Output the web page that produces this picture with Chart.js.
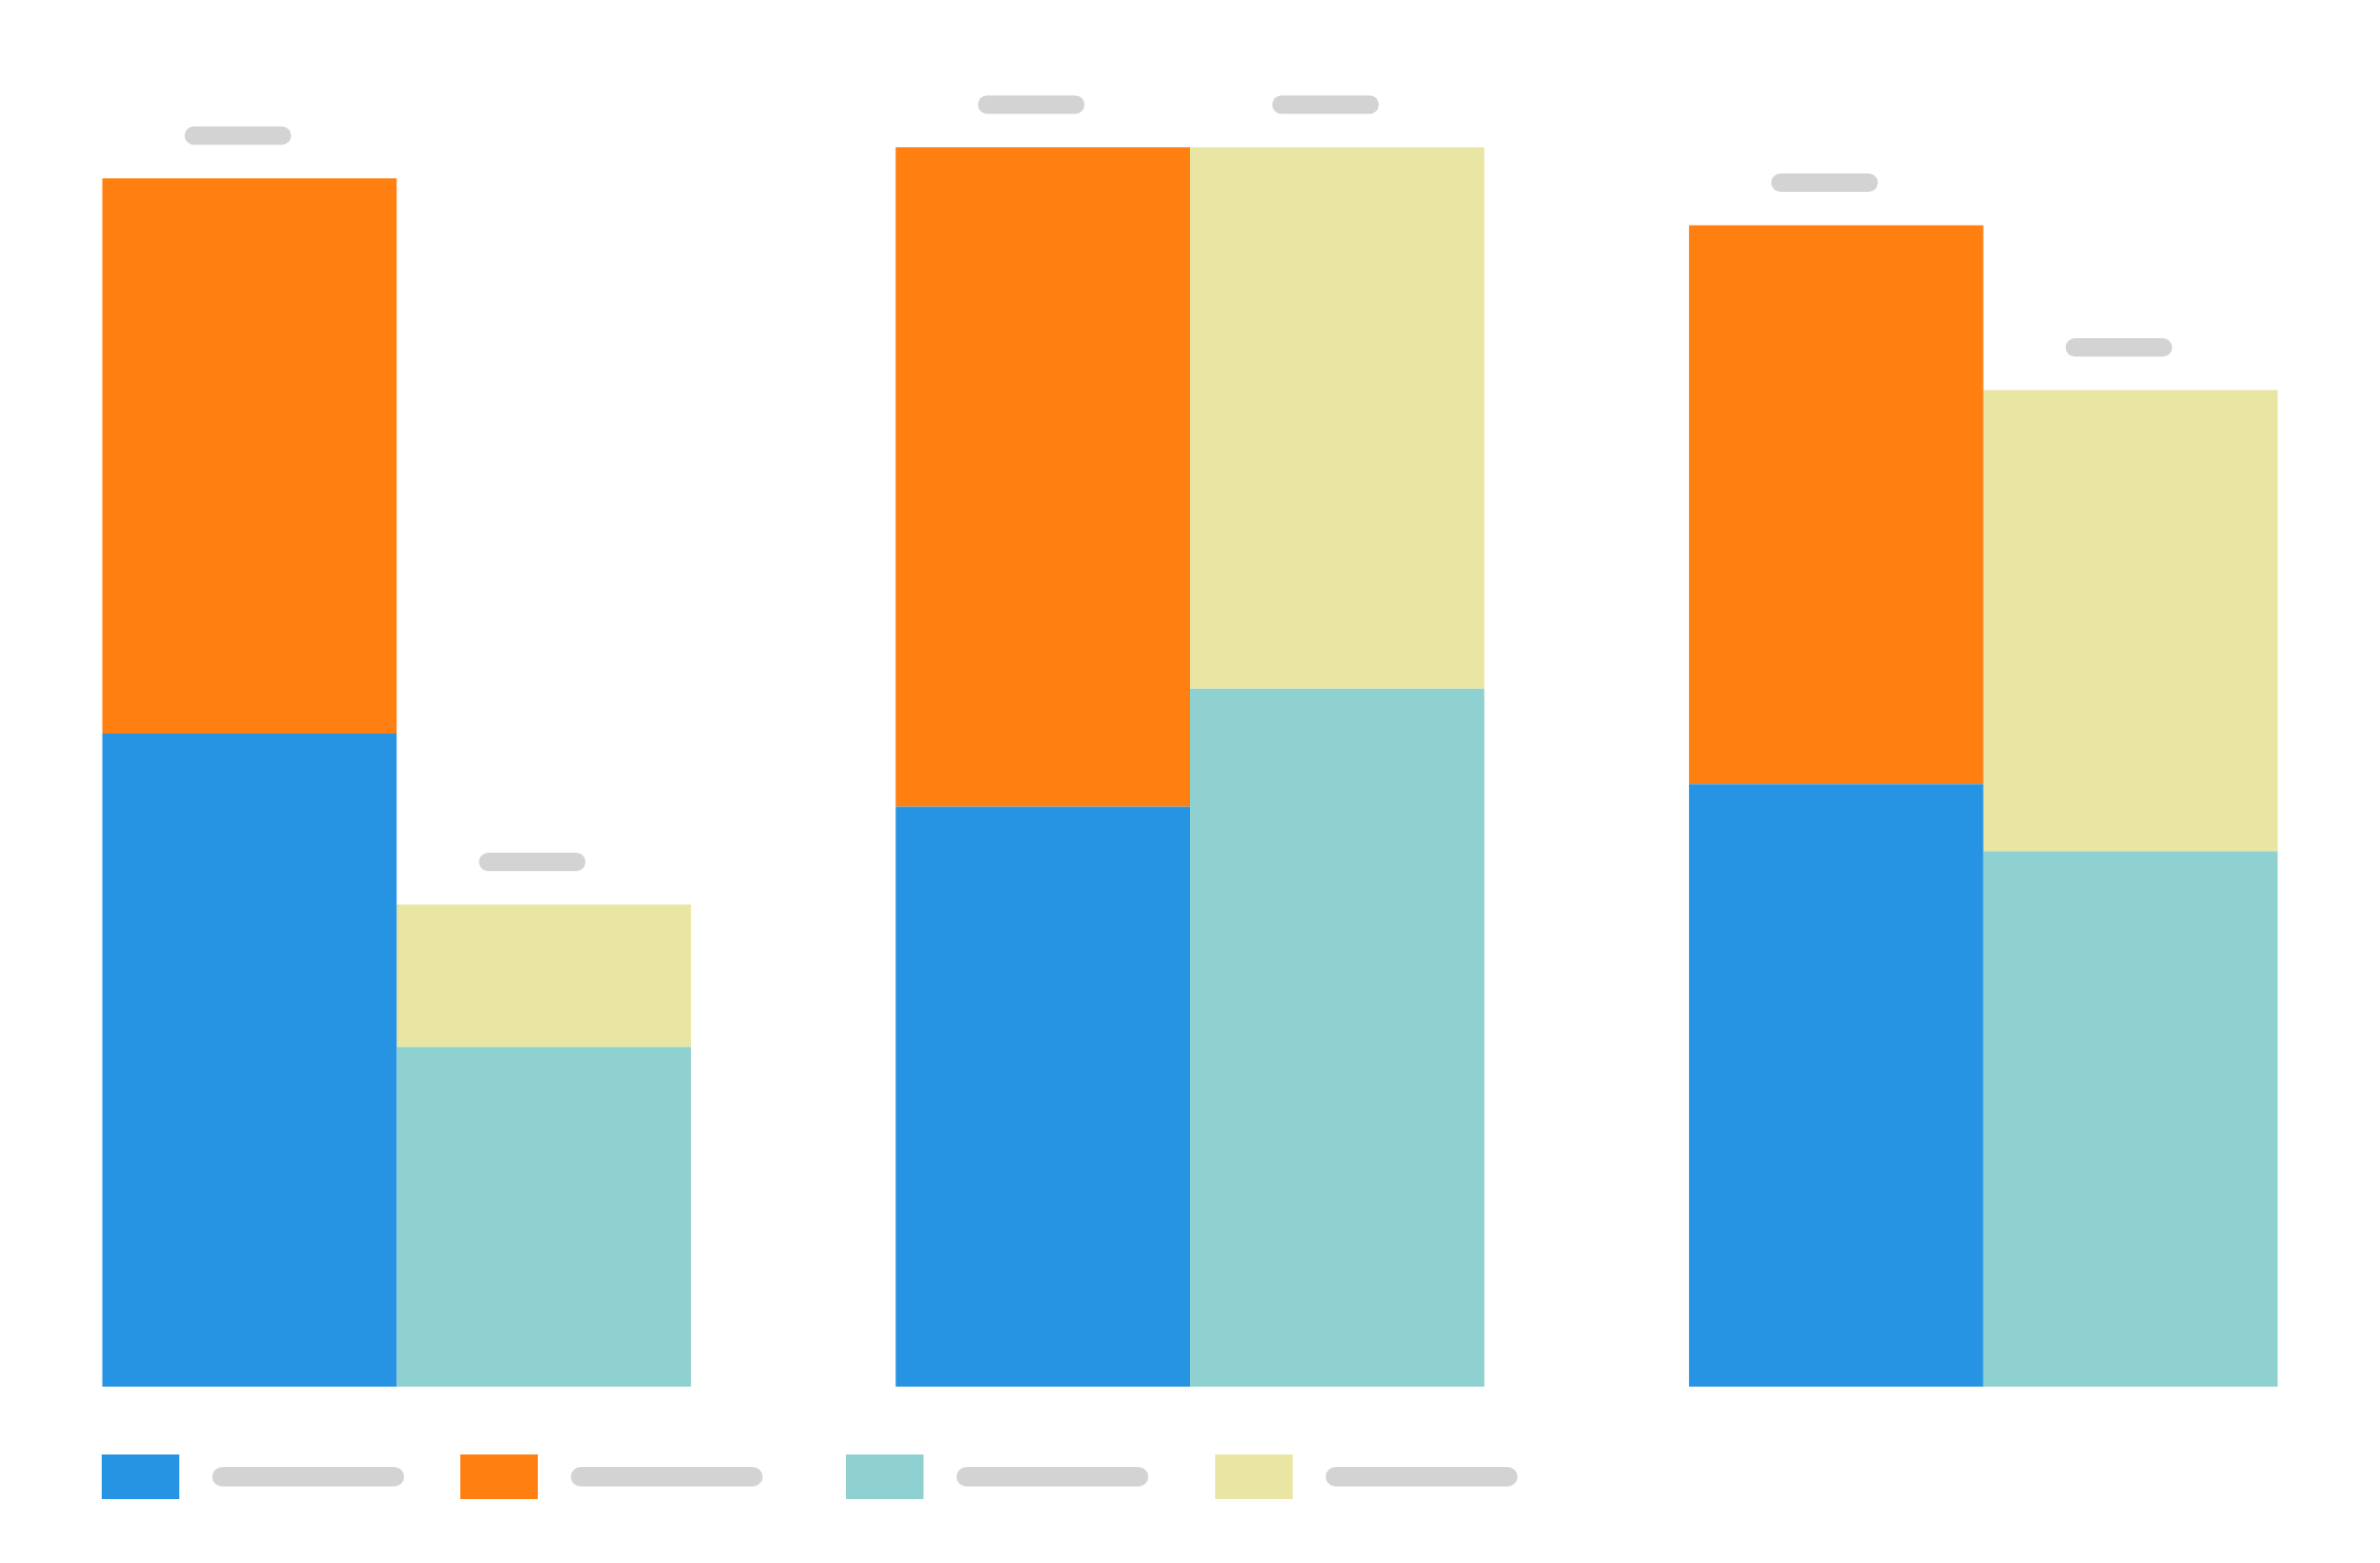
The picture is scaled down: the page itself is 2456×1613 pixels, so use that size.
<!DOCTYPE html>
<html>
<head>
<meta charset="utf-8">
<title>Stacked groups</title>
<script src="https://cdn.jsdelivr.net/npm/chart.js@4/dist/chart.umd.min.js"></script>
<style>
  html, body { margin: 0; padding: 0; background: #fff; }
  #wrap { position: relative; width: 2456px; height: 1613px; }
</style>
</head>
<body>
<div id="wrap"><canvas id="chart"></canvas></div>
<script>
// Data
const categories = ['Group 1', 'Group 2', 'Group 3'];
const seriesNames = ['Series A1', 'Series A2', 'Series B1', 'Series B2'];
const blueValues = [52.7, 46.8, 48.6];
const orangeValues = [44.8, 53.2, 45.1];
const tealValues = [27.4, 56.3, 43.2];
const yellowValues = [11.5, 43.7, 37.2];

const PILL = '#d3d3d3';

function pill(ctx, x, y, w, h) {
  const r = h / 2;
  ctx.beginPath();
  ctx.moveTo(x + r, y);
  ctx.lineTo(x + w - r, y);
  ctx.arc(x + w - r, y + r, r, -Math.PI / 2, Math.PI / 2);
  ctx.lineTo(x + r, y + h);
  ctx.arc(x + r, y + r, r, Math.PI / 2, Math.PI * 1.5);
  ctx.closePath();
  ctx.fill();
}

// placeholder pills above each stack (total labels)
const totalLabels = {
  id: 'totalLabels',
  afterDatasetsDraw(chart) {
    const ctx = chart.ctx;
    ctx.save();
    ctx.fillStyle = PILL;
    [1, 3].forEach(idx => {
      chart.getDatasetMeta(idx).data.forEach(bar => {
        pill(ctx, bar.x - 12 - 55, bar.y - 44 - 9.5, 110, 19);
      });
    });
    ctx.restore();
  }
};

// legend: colour box + grey pill for each series
const legendStarts = [105, 475, 873, 1254];
const pillLegend = {
  id: 'pillLegend',
  afterDraw(chart) {
    const ctx = chart.ctx;
    ctx.save();
    const y = 1501;
    chart.data.datasets.forEach((ds, i) => {
      const x = legendStarts[i];
      ctx.fillStyle = ds.backgroundColor;
      ctx.fillRect(x, y, 80, 46);
      ctx.fillStyle = PILL;
      pill(ctx, x + 80 + 34, y + 13, 198, 20);
    });
    ctx.restore();
  }
};

new Chart(document.getElementById('chart'), {
  type: 'bar',
  data: {
    labels: categories,
    datasets: [
      { label: seriesNames[0], data: blueValues, backgroundColor: '#2694e3', stack: 'a' },
      { label: seriesNames[1], data: orangeValues, backgroundColor: '#ff7f11', stack: 'a' },
      { label: seriesNames[2], data: tealValues, backgroundColor: '#8ed1d0', stack: 'b' },
      { label: seriesNames[3], data: yellowValues, backgroundColor: '#e9e5a3', stack: 'b' }
    ]
  },
  options: {
    responsive: true,
    maintainAspectRatio: false,
    animation: false,
    layout: { padding: { top: 24, bottom: 182, left: 0, right: 0 } },
    datasets: {
      bar: { categoryPercentage: 0.742, barPercentage: 1.0, borderWidth: 0 }
    },
    plugins: {
      legend: { display: false },
      tooltip: { enabled: false }
    },
    scales: {
      x: { display: false, stacked: true, grid: { display: false } },
      y: { display: false, stacked: true, min: 0, max: 110, grid: { display: false } }
    }
  },
  plugins: [totalLabels, pillLegend]
});
</script>
</body>
</html>
